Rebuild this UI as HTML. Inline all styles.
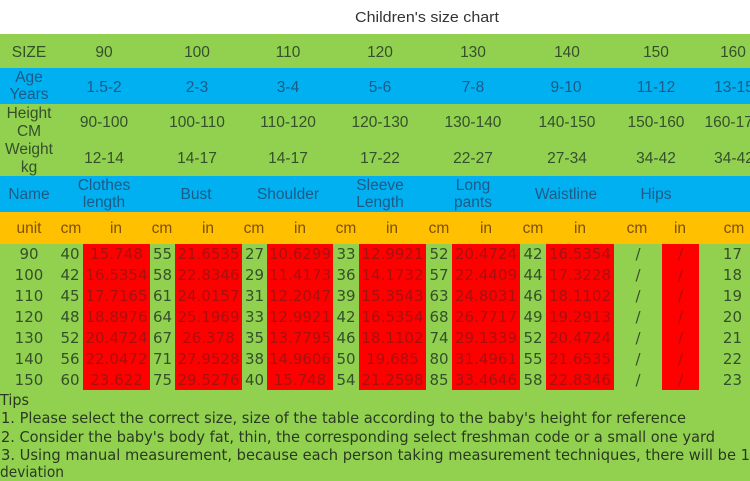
<!DOCTYPE html>
<html><head><meta charset="utf-8"><style>
html,body{margin:0;padding:0;background:#fff;}
svg{display:block;}
.h{font-family:"Liberation Sans",sans-serif;font-size:15.5px;text-anchor:middle;}
.d{font-family:"DejaVu Sans",sans-serif;font-size:15px;text-anchor:middle;}
.g{fill:#34502a;}
.b{fill:#1d5a86;}
.o{fill:#7e5008;}
.r{fill:#a81010;}
</style></head><body>
<svg width="750" height="481" viewBox="0 0 750 481" xmlns="http://www.w3.org/2000/svg">
<rect x="0" y="0" width="750" height="34" fill="#ffffff"/>
<rect x="0" y="34" width="750" height="34" fill="#92d050"/>
<rect x="0" y="68" width="750" height="36" fill="#00b0f0"/>
<rect x="0" y="104" width="750" height="72" fill="#92d050"/>
<rect x="0" y="176" width="750" height="36" fill="#00b0f0"/>
<rect x="0" y="212" width="750" height="32" fill="#ffc000"/>
<rect x="0" y="244" width="750" height="237" fill="#92d050"/>
<g fill="#ff0000">
<rect x="83" y="244" width="67" height="146"/>
<rect x="175" y="244" width="67" height="146"/>
<rect x="267" y="244" width="66" height="146"/>
<rect x="359" y="244" width="67" height="146"/>
<rect x="452" y="244" width="68" height="146"/>
<rect x="546" y="244" width="68" height="146"/>
<rect x="662" y="244" width="37" height="146"/>
</g>
<text x="427" y="22" font-family="Liberation Sans, sans-serif" font-size="15" fill="#333" text-anchor="middle" textLength="144" lengthAdjust="spacingAndGlyphs">Children's size chart</text>
<g class="h g">
<text x="29" y="57">SIZE</text>
<text x="104" y="57">90</text><text x="197" y="57">100</text><text x="288" y="57">110</text><text x="380" y="57">120</text>
<text x="473" y="57">130</text><text x="567" y="57">140</text><text x="656" y="57">150</text><text x="733" y="57">160</text>
</g>
<g class="h b">
<text x="29" y="82">Age</text><text x="29" y="99">Years</text>
<text x="104" y="92">1.5-2</text><text x="197" y="92">2-3</text><text x="288" y="92">3-4</text><text x="380" y="92">5-6</text>
<text x="473" y="92">7-8</text><text x="566" y="92">9-10</text><text x="656" y="92">11-12</text><text x="734" y="92">13-15</text>
</g>
<g class="h g">
<text x="29" y="118">Height</text><text x="29" y="136">CM</text>
<text x="104" y="127">90-100</text><text x="197" y="127">100-110</text><text x="288" y="127">110-120</text><text x="380" y="127">120-130</text>
<text x="473" y="127">130-140</text><text x="567" y="127">140-150</text><text x="656" y="127">150-160</text><text x="733" y="127">160-170</text>
</g>
<g class="h g">
<text x="29" y="154">Weight</text><text x="29" y="172">kg</text>
<text x="104" y="163">12-14</text><text x="197" y="163">14-17</text><text x="288" y="163">14-17</text><text x="380" y="163">17-22</text>
<text x="473" y="163">22-27</text><text x="567" y="163">27-34</text><text x="656" y="163">34-42</text><text x="734" y="163">34-42</text>
</g>
<g class="h b">
<text x="29" y="199">Name</text>
<text x="104" y="190">Clothes</text><text x="104" y="207">length</text>
<text x="196" y="199">Bust</text>
<text x="288" y="199">Shoulder</text>
<text x="380" y="190">Sleeve</text><text x="380" y="207">Length</text>
<text x="473" y="190">Long</text><text x="473" y="207">pants</text>
<text x="566" y="199">Waistline</text>
<text x="656" y="199">Hips</text>
</g>
<g class="h o">
<text x="29" y="233">unit</text>
<text x="71" y="233">cm</text><text x="116" y="233">in</text>
<text x="162" y="233">cm</text><text x="208" y="233">in</text>
<text x="254" y="233">cm</text><text x="300" y="233">in</text>
<text x="346" y="233">cm</text><text x="392" y="233">in</text>
<text x="439" y="233">cm</text><text x="486" y="233">in</text>
<text x="533" y="233">cm</text><text x="580" y="233">in</text>
<text x="637" y="233">cm</text><text x="680" y="233">in</text>
<text x="734" y="233">cm</text>
</g>
<g class="d g">
<text x="29" y="259">90</text><text x="70" y="259">40</text><text x="162.5" y="259">55</text><text x="254.5" y="259">27</text><text x="346" y="259">33</text><text x="439" y="259">52</text><text x="533" y="259">42</text><text x="638" y="259">/</text><text x="742" y="259" text-anchor="end">17</text>
<text x="29" y="280">100</text><text x="70" y="280">42</text><text x="162.5" y="280">58</text><text x="254.5" y="280">29</text><text x="346" y="280">36</text><text x="439" y="280">57</text><text x="533" y="280">44</text><text x="638" y="280">/</text><text x="742" y="280" text-anchor="end">18</text>
<text x="29" y="301">110</text><text x="70" y="301">45</text><text x="162.5" y="301">61</text><text x="254.5" y="301">31</text><text x="346" y="301">39</text><text x="439" y="301">63</text><text x="533" y="301">46</text><text x="638" y="301">/</text><text x="742" y="301" text-anchor="end">19</text>
<text x="29" y="322">120</text><text x="70" y="322">48</text><text x="162.5" y="322">64</text><text x="254.5" y="322">33</text><text x="346" y="322">42</text><text x="439" y="322">68</text><text x="533" y="322">49</text><text x="638" y="322">/</text><text x="742" y="322" text-anchor="end">20</text>
<text x="29" y="343">130</text><text x="70" y="343">52</text><text x="162.5" y="343">67</text><text x="254.5" y="343">35</text><text x="346" y="343">46</text><text x="439" y="343">74</text><text x="533" y="343">52</text><text x="638" y="343">/</text><text x="742" y="343" text-anchor="end">21</text>
<text x="29" y="364">140</text><text x="70" y="364">56</text><text x="162.5" y="364">71</text><text x="254.5" y="364">38</text><text x="346" y="364">50</text><text x="439" y="364">80</text><text x="533" y="364">55</text><text x="638" y="364">/</text><text x="742" y="364" text-anchor="end">22</text>
<text x="29" y="385">150</text><text x="70" y="385">60</text><text x="162.5" y="385">75</text><text x="254.5" y="385">40</text><text x="346" y="385">54</text><text x="439" y="385">85</text><text x="533" y="385">58</text><text x="638" y="385">/</text><text x="742" y="385" text-anchor="end">23</text>
</g>
<g class="d r">
<text x="116.5" y="259">15.748</text><text x="208.5" y="259">21.6535</text><text x="300" y="259">10.6299</text><text x="392.5" y="259">12.9921</text><text x="486" y="259">20.4724</text><text x="580" y="259">16.5354</text><text x="680.5" y="259">/</text>
<text x="116.5" y="280">16.5354</text><text x="208.5" y="280">22.8346</text><text x="300" y="280">11.4173</text><text x="392.5" y="280">14.1732</text><text x="486" y="280">22.4409</text><text x="580" y="280">17.3228</text><text x="680.5" y="280">/</text>
<text x="116.5" y="301">17.7165</text><text x="208.5" y="301">24.0157</text><text x="300" y="301">12.2047</text><text x="392.5" y="301">15.3543</text><text x="486" y="301">24.8031</text><text x="580" y="301">18.1102</text><text x="680.5" y="301">/</text>
<text x="116.5" y="322">18.8976</text><text x="208.5" y="322">25.1969</text><text x="300" y="322">12.9921</text><text x="392.5" y="322">16.5354</text><text x="486" y="322">26.7717</text><text x="580" y="322">19.2913</text><text x="680.5" y="322">/</text>
<text x="116.5" y="343">20.4724</text><text x="208.5" y="343">26.378</text><text x="300" y="343">13.7795</text><text x="392.5" y="343">18.1102</text><text x="486" y="343">29.1339</text><text x="580" y="343">20.4724</text><text x="680.5" y="343">/</text>
<text x="116.5" y="364">22.0472</text><text x="208.5" y="364">27.9528</text><text x="300" y="364">14.9606</text><text x="392.5" y="364">19.685</text><text x="486" y="364">31.4961</text><text x="580" y="364">21.6535</text><text x="680.5" y="364">/</text>
<text x="116.5" y="385">23.622</text><text x="208.5" y="385">29.5276</text><text x="300" y="385">15.748</text><text x="392.5" y="385">21.2598</text><text x="486" y="385">33.4646</text><text x="580" y="385">22.8346</text><text x="680.5" y="385">/</text>
</g>
<g font-family="DejaVu Sans, sans-serif" font-size="15" fill="#2a3a22">
<text x="0" y="405" textLength="29" lengthAdjust="spacingAndGlyphs">Tips</text>
<text x="1" y="423" textLength="685" lengthAdjust="spacingAndGlyphs">1. Please select the correct size, size of the table according to the baby's height for reference</text>
<text x="1" y="442" textLength="714" lengthAdjust="spacingAndGlyphs">2. Consider the baby's body fat, thin, the corresponding select freshman code or a small one yard</text>
<text x="1" y="460" textLength="749" lengthAdjust="spacingAndGlyphs">3. Using manual measurement, because each person taking measurement techniques, there will be 1</text>
<text x="0" y="477" textLength="64" lengthAdjust="spacingAndGlyphs">deviation</text>
</g>
</svg>
</body></html>
